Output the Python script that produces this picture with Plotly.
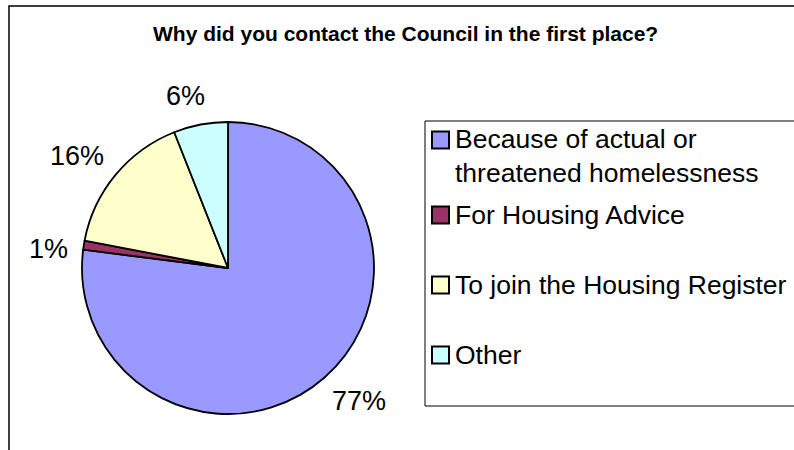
import math
import plotly.graph_objects as go

# Survey responses
categories = [
    "Because of actual or<br>threatened homelessness",
    "For Housing Advice",
    "To join the Housing Register",
    "Other",
]
values = [77, 1, 16, 6]
colors = ["#9999FF", "#993366", "#FFFFCC", "#CCFFFF"]
title_text = "Why did you contact the Council in the first place?"

W, H = 794, 450
FONT = "Arial, 'Liberation Sans', sans-serif"
LABEL_SIZE = 27

# pie placement (pixels)
cx, cy, r = 228, 268, 146
dom_x = [(cx - r) / W, (cx + r) / W]
dom_y = [1 - (cy + r) / H, 1 - (cy - r) / H]

fig = go.Figure(
    go.Pie(
        labels=categories,
        values=values,
        sort=False,
        direction="clockwise",
        rotation=0,
        marker=dict(colors=colors, line=dict(color="black", width=1.8)),
        textinfo="none",
        hoverinfo="label+percent",
        showlegend=False,
        domain=dict(x=dom_x, y=dom_y),
    )
)

annotations = []
shapes = []

# percentage labels placed outside each slice near its mid-angle,
# pushed out so the text box clears the rim
total = sum(values)
cum = 0
for v in values:
    mid = (cum + v / 2) / total * 2 * math.pi - math.radians(3)
    cum += v
    txt = f"{round(v / total * 100)}%"
    half_w = len(txt) * 0.56 * LABEL_SIZE / 2
    half_h = 0.36 * LABEL_SIZE
    sx, cy_dir = math.sin(mid), math.cos(mid)
    lr = r + 18 + abs(sx) * half_w + abs(cy_dir) * half_h
    px = cx + lr * sx
    py = cy - lr * cy_dir
    annotations.append(
        dict(
            x=px / W, y=1 - py / H, xref="paper", yref="paper",
            text=txt, showarrow=False,
            font=dict(family=FONT, size=LABEL_SIZE, color="black"),
            xanchor="center", yanchor="middle",
        )
    )

# title
annotations.append(
    dict(
        x=405 / W, y=1 - 33 / H, xref="paper", yref="paper",
        text=f"<b>{title_text}</b>", showarrow=False,
        font=dict(family=FONT, size=21, color="black"),
        xanchor="center", yanchor="middle",
    )
)

# outer chart frame
shapes.append(dict(type="rect", xref="paper", yref="paper",
                   x0=9 / W, x1=1.05, y0=-0.05, y1=1 - 6 / H,
                   line=dict(color="black", width=1.5)))

# legend box
shapes.append(dict(type="rect", xref="paper", yref="paper",
                   x0=425 / W, x1=1.05, y0=1 - 406 / H, y1=1 - 121 / H,
                   line=dict(color="black", width=1), fillcolor="white"))

# legend entries
item_y = [156, 215, 285, 355]
sq = 17
for name, col, yy in zip(categories, colors, item_y):
    first_line_y = yy - 16 if "<br>" in name else yy
    shapes.append(dict(type="rect", xref="paper", yref="paper",
                       x0=432 / W, x1=(432 + sq) / W,
                       y0=1 - (first_line_y + sq / 2) / H,
                       y1=1 - (first_line_y - sq / 2) / H,
                       line=dict(color="black", width=2), fillcolor=col))
    annotations.append(
        dict(
            x=453 / W, y=1 - yy / H, xref="paper", yref="paper",
            text=name, showarrow=False, align="left",
            font=dict(family=FONT, size=26.5, color="black"),
            xanchor="left", yanchor="middle",
        )
    )

fig.update_layout(
    width=W, height=H,
    margin=dict(l=0, r=0, t=0, b=0),
    paper_bgcolor="white", plot_bgcolor="white",
    annotations=annotations, shapes=shapes,
    showlegend=False,
)

fig.write_html("out.html")
